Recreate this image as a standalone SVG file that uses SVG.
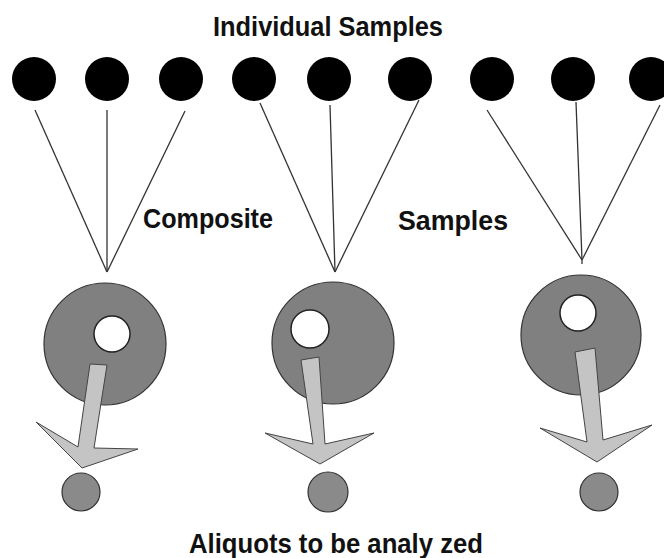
<svg xmlns="http://www.w3.org/2000/svg" width="664" height="558" viewBox="0 0 664 558">
  <style>
    .lbl { font-family: "Liberation Sans", Arial, sans-serif; font-weight: bold; font-size: 28px; fill: #111; }
    .sample { fill: #000; }
    .composite { fill: #808080; stroke: #333; stroke-width: 1.2; }
    .hole { fill: #fff; stroke: #222; stroke-width: 1.5; }
    .pour { fill: #c4c4c4; stroke: #444; stroke-width: 1; stroke-linejoin: miter; }
    .aliquot { fill: #8a8a8a; stroke: #333; stroke-width: 1.2; }
    .conn line { stroke: #333; stroke-width: 1.3; }
  </style>

  <rect width="664" height="558" fill="#fff"/>

  <!-- labels -->
  <text class="lbl" x="213" y="36" textLength="230" lengthAdjust="spacingAndGlyphs">Individual Samples</text>
  <text class="lbl" x="143" y="228" textLength="130" lengthAdjust="spacingAndGlyphs">Composite</text>
  <text class="lbl" x="398" y="230" textLength="110" lengthAdjust="spacingAndGlyphs">Samples</text>
  <text class="lbl" x="189" y="553" textLength="294" lengthAdjust="spacingAndGlyphs">Aliquots to be analy zed</text>

  <!-- individual samples -->
  <g id="sample-1"><circle class="sample" cx="34" cy="79" r="22"/></g>
  <g id="sample-2"><circle class="sample" cx="107" cy="79" r="22"/></g>
  <g id="sample-3"><circle class="sample" cx="181" cy="79" r="22"/></g>
  <g id="sample-4"><circle class="sample" cx="254" cy="79" r="22"/></g>
  <g id="sample-5"><circle class="sample" cx="329" cy="79" r="22"/></g>
  <g id="sample-6"><circle class="sample" cx="410" cy="79" r="22"/></g>
  <g id="sample-7"><circle class="sample" cx="492" cy="79" r="22"/></g>
  <g id="sample-8"><circle class="sample" cx="573" cy="79" r="22"/></g>
  <g id="sample-9"><circle class="sample" cx="651" cy="79" r="22"/></g>

  <!-- connectors from samples to composites -->
  <g id="connectors" class="conn">
    <line x1="35" y1="110" x2="107" y2="272"/>
    <line x1="107" y1="110" x2="107" y2="272"/>
    <line x1="185" y1="111" x2="107" y2="272"/>

    <line x1="260" y1="103" x2="335" y2="272"/>
    <line x1="330" y1="105" x2="335" y2="272"/>
    <line x1="419" y1="100" x2="335" y2="272"/>

    <line x1="487" y1="110" x2="582" y2="260"/>
    <line x1="576" y1="102" x2="582" y2="260"/>
    <line x1="660" y1="105" x2="582" y2="260"/>
    <line x1="582" y1="260" x2="582" y2="264"/>
  </g>

  <!-- composite 1 -->
  <g id="composite-1">
    <circle class="composite" cx="105" cy="344" r="61"/>
    <circle class="hole" cx="112" cy="334" r="18"/>
    <polygon class="pour" points="90,364 107,365 94,448 138,449 82,468 36,422 78,447"/>
    <circle class="aliquot" cx="81" cy="492" r="19"/>
  </g>

  <!-- composite 2 -->
  <g id="composite-2">
    <circle class="composite" cx="333" cy="343" r="61"/>
    <circle class="hole" cx="310" cy="329" r="19"/>
    <polygon class="pour" points="301,360 319,357 325,444 374,433 320,464 265,433 313,444"/>
    <circle class="aliquot" cx="328" cy="492" r="20"/>
  </g>

  <!-- composite 3 -->
  <g id="composite-3">
    <circle class="composite" cx="581" cy="335" r="60"/>
    <circle class="hole" cx="578" cy="313" r="18"/>
    <polygon class="pour" points="575,352 595,348 603,440 652,425 597,462 540,428 587,442"/>
    <circle class="aliquot" cx="599" cy="492" r="19"/>
  </g>
</svg>
